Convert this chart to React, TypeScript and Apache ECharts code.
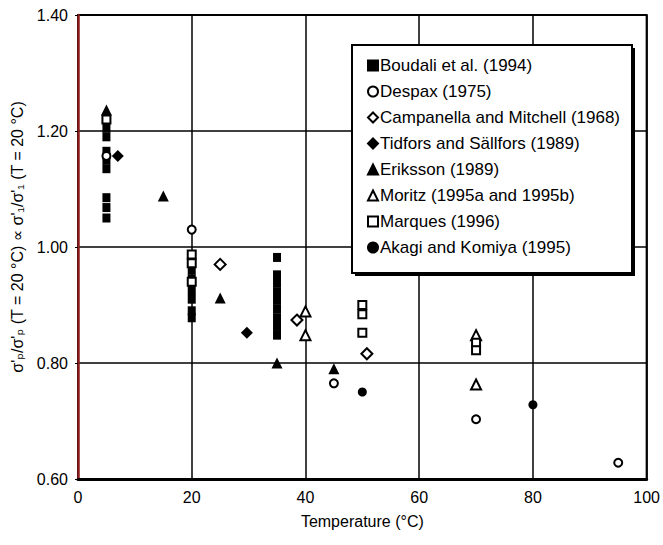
import React, { useEffect, useRef } from "react";
import * as echarts from "echarts";

const xTicks = [0, 20, 40, 60, 80, 100];
const yTicks = [0.6, 0.8, 1.0, 1.2, 1.4];

const seriesNames = [
  "Boudali et al. (1994)",
  "Despax (1975)",
  "Campanella and Mitchell (1968)",
  "Tidfors and Sällfors (1989)",
  "Eriksson (1989)",
  "Moritz (1995a and 1995b)",
  "Marques (1996)",
  "Akagi and Komiya (1995)",
];

const boudali: [number, number][] = [
  [5, 1.205], [5, 1.19], [5, 1.165], [5, 1.15], [5, 1.135], [5, 1.085], [5, 1.068], [5, 1.05],
  [20, 0.96], [20, 0.945], [20, 0.925], [20, 0.91], [20, 0.89], [20, 0.878],
  [35, 0.982], [35, 0.952], [35, 0.938], [35, 0.923], [35, 0.908], [35, 0.893], [35, 0.878], [35, 0.863], [35, 0.848],
];
const despax: [number, number][] = [
  [5, 1.157], [20, 1.03], [45, 0.765], [70, 0.703], [95, 0.628],
];
const campanella: [number, number][] = [
  [25, 0.97], [38.5, 0.874], [50.8, 0.816],
];
const tidfors: [number, number][] = [
  [7, 1.157], [29.7, 0.852],
];
const eriksson: [number, number][] = [
  [5, 1.236], [15, 1.088], [25, 0.912], [35, 0.8], [45, 0.79],
];
const moritz: [number, number][] = [
  [40, 0.889], [40, 0.848], [70, 0.848], [70, 0.763],
];
const marques: [number, number][] = [
  [5, 1.22], [20, 0.987], [20, 0.972], [20, 0.94],
  [50, 0.9], [50, 0.884], [50, 0.852], [70, 0.835], [70, 0.822],
];
const akagi: [number, number][] = [
  [50, 0.75], [80, 0.728],
];

const FONT = "'Liberation Sans', Arial, 'DejaVu Sans', sans-serif";

export default function App() {
  const ref = useRef<HTMLDivElement>(null);
  useEffect(() => {
    if (!ref.current) return;
    const chart = echarts.init(ref.current, null, { renderer: "svg" });
    const filled = { color: "#000", borderColor: "#000", borderWidth: 0, opacity: 1 };
    const open = { color: "#fff", borderColor: "#000", borderWidth: 2, opacity: 1 };
    const datasets = [boudali, despax, campanella, tidfors, eriksson, moritz, marques, akagi];
    const symbols = ["rect", "circle", "diamond", "diamond", "triangle", "triangle", "rect", "circle"];
    const sizes: any[] = [[8, 9], 8, 11, 12, 11, 10, 8, 9];
    const styles = [filled, open, open, filled, filled, open, open, filled];
    const series = seriesNames.map((name, i) => ({
      name,
      type: "scatter",
      data: datasets[i],
      symbol: symbols[i],
      symbolSize: sizes[i],
      itemStyle: styles[i],
      z: 3,
    }));
    chart.setOption({
      animation: false,
      backgroundColor: "#fff",
      textStyle: { fontFamily: FONT },
      grid: {
        left: 78, right: 15, top: 15, bottom: 66,
        show: true, borderColor: "#000", borderWidth: 2, backgroundColor: "transparent",
      },
      xAxis: {
        type: "value",
        min: xTicks[0],
        max: xTicks[xTicks.length - 1],
        interval: 20,
        name: "Temperature (°C)",
        nameLocation: "middle",
        nameGap: 34,
        nameTextStyle: { fontSize: 16, color: "#000", fontFamily: FONT },
        axisLine: { lineStyle: { color: "#000", width: 3 } },
        axisTick: { show: false },
        axisLabel: { fontSize: 16, color: "#000", margin: 10, fontFamily: FONT },
        splitLine: { show: true, lineStyle: { color: "#000", width: 1.5 } },
      },
      yAxis: {
        type: "value",
        min: yTicks[0],
        max: yTicks[yTicks.length - 1],
        interval: 0.2,
        name: "σ'ₚ/σ'ₚ (T = 20 °C) ∝ σ'₁/σ'₁ (T = 20 °C)",
        nameLocation: "middle",
        nameGap: 52,
        nameTextStyle: { fontSize: 16, color: "#000", fontFamily: FONT, padding: [0, 0, 0, 20] },
        axisLine: { show: true, lineStyle: { color: "#8b1a1a", width: 2.5 } },
        axisTick: { show: true, length: 3, lineStyle: { color: "#000" } },
        axisLabel: {
          fontSize: 16, color: "#000", margin: 10, fontFamily: FONT,
          formatter: (v: number) => v.toFixed(2),
        },
        splitLine: { show: true, lineStyle: { color: "#000", width: 1.5 } },
      },
      legend: {
        data: seriesNames,
        orient: "vertical",
        left: 362,
        top: 52,
        itemGap: 9,
        itemWidth: 10,
        itemHeight: 10,
        itemStyle: { borderWidth: 2 },
        textStyle: { fontSize: 17, color: "#000", fontFamily: FONT, padding: [0, 0, 0, -3] },
        z: 10,
      },
      graphic: [
        { type: "rect", z: 8, shape: { x: 355, y: 48, width: 280, height: 228 }, style: { fill: "#000" } },
        { type: "rect", z: 9, shape: { x: 352, y: 45, width: 280, height: 228 }, style: { fill: "#fff", stroke: "#000", lineWidth: 2 } },
      ],
      series,
    });
    return () => chart.dispose();
  }, []);
  return <div ref={ref} style={{ position: "fixed", left: 0, top: 0, width: 663, height: 545 }} />;
}
